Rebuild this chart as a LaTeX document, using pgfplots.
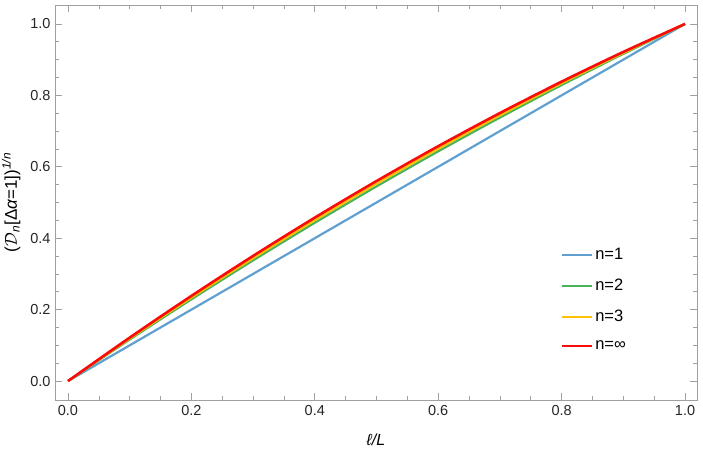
\documentclass[border=0pt]{standalone}
\usepackage{pgfplots}
\pgfplotsset{compat=1.18}
\usepackage{fontspec}
\setmainfont{Liberation Sans}
\definecolor{cblue}{RGB}{95,160,208}
\definecolor{cgreen}{RGB}{76,178,90}
\definecolor{cyellow}{RGB}{255,192,0}
\definecolor{cred}{RGB}{250,10,10}
\definecolor{frame}{RGB}{160,160,160}
\begin{document}
\begin{tikzpicture}
\useasboundingbox (-55bp,-50bp) rectangle (648bp,400bp);
\begin{axis}[
  at={(0,0)}, anchor=south west,
  scale only axis, width=642bp, height=395bp,
  xmin=-0.021, xmax=1.0194, ymin=-0.053, ymax=1.053,
  xtick={0,0.2,0.4,0.6,0.8,1.0}, ytick={0,0.2,0.4,0.6,0.8,1.0},
  minor x tick num=3, minor y tick num=3,
  tick align=inside,
  major tick length=7bp, minor tick length=4bp,
  axis line style={frame},
  tick style={frame, line width=0.6pt},
  ticklabel style={font=\fontsize{14.5bp}{17bp}\selectfont, text=black!85},
  /pgf/number format/assume math mode=true,
  /pgf/number format/.cd, fixed, fixed zerofill, precision=1, /pgfplots/.cd,
  xticklabel style={yshift=-2bp},
  yticklabel style={xshift=-1bp},
  xlabel={\textit{ℓ/L}},
  xlabel style={at={(rel axis cs:0.5,0)}, anchor=center, yshift=-40bp, font=\fontsize{16bp}{18bp}\selectfont},
  ylabel={($\mathcal{D}$\textsubscript{\textit{n}}[Δ\textit{α}=1])\textsuperscript{\textit{1/n}}},
  ylabel style={at={(rel axis cs:0,0.5)}, anchor=south, yshift=31bp, font=\fontsize{17bp}{19bp}\selectfont},
  legend style={at={(rel axis cs:0.779,0.405)}, anchor=north west, draw=none, fill=white,
    font=\fontsize{16.5bp}{18bp}\selectfont, row sep=14bp, inner sep=6bp},
  legend cell align=left,
  legend image code/.code={\draw[#1, line width=2bp] (0bp,0bp) -- (30bp,0bp);},
]
\addplot[cblue, line width=2.2bp] coordinates {(0,0) (1,1)};
\addlegendentry{n=1}
\addplot[cgreen, line width=2.2bp, smooth] coordinates {
(0,0) (0.1,0.1162) (0.2,0.2288) (0.3,0.3378) (0.4,0.4432) (0.5,0.545)
(0.6,0.6432) (0.7,0.7378) (0.8,0.8288) (0.9,0.9162) (1,1)};
\addlegendentry{n=2}
\addplot[cyellow, line width=2.2bp, smooth] coordinates {
(0,0) (0.1,0.1189) (0.2,0.2336) (0.3,0.3441) (0.4,0.4504) (0.5,0.5525)
(0.6,0.6504) (0.7,0.7441) (0.8,0.8336) (0.9,0.9189) (1,1)};
\addlegendentry{n=3}
\addplot[cred, line width=2.6bp, smooth] coordinates {
(0,0) (0.1,0.1216) (0.2,0.2384) (0.3,0.3504) (0.4,0.4576) (0.5,0.56)
(0.6,0.6576) (0.7,0.7504) (0.8,0.8384) (0.9,0.9216) (1,1)};
\addlegendentry{n=∞}
\end{axis}
\end{tikzpicture}
\end{document}
